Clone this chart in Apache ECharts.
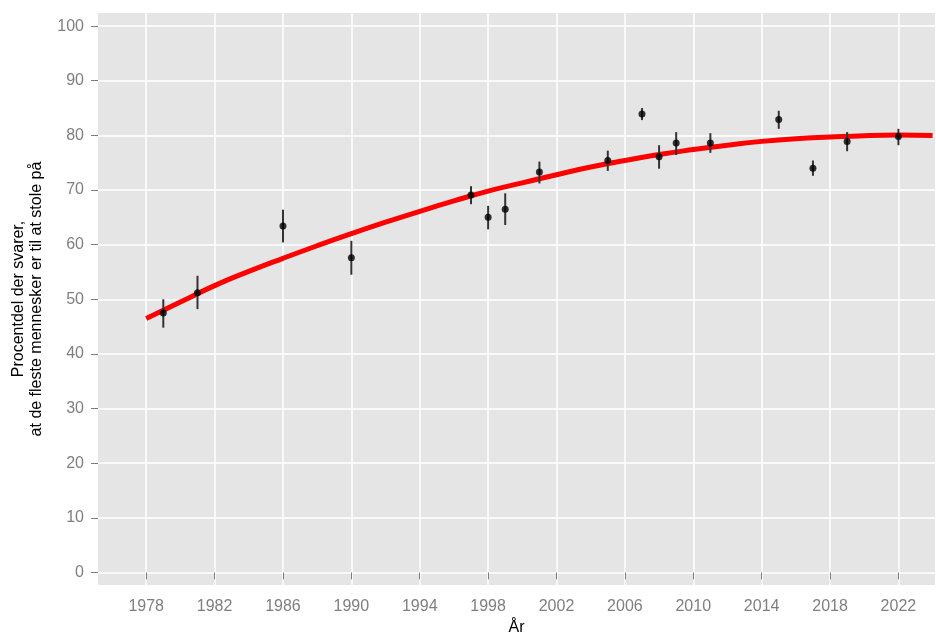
<!DOCTYPE html>
<html>
<head>
	<meta charset="UTF-8">
	<title>Tillid</title>
	<style>
		html, body { margin: 0; padding: 0; background: #fff; }
		#chart { width: 936px; height: 633px; }
	</style>
</head>
<body>
<div id="chart"></div>
<script type="text/javascript" src="https://cdn.jsdelivr.net/npm/echarts@6/dist/echarts.min.js"></script>
<script type="text/javascript">
// survey points
var years = [1979, 1981, 1986, 1990, 1997, 1998, 1999, 2001, 2005, 2007, 2008, 2009, 2011, 2015, 2017, 2019, 2022];
var shares = [47.5, 51.2, 63.4, 57.6, 69.1, 65.0, 66.5, 73.3, 75.4, 83.9, 76.1, 78.6, 78.6, 82.9, 74.0, 78.9, 79.8];
var lower = [44.8, 48.2, 60.4, 54.5, 67.4, 62.8, 63.6, 71.2, 73.5, 82.8, 73.9, 76.4, 76.8, 81.2, 72.6, 77.1, 78.2];
var upper = [50.0, 54.3, 66.4, 60.7, 70.7, 67.1, 69.4, 75.2, 77.2, 85.0, 78.2, 80.6, 80.4, 84.5, 75.4, 80.6, 81.2];

// red trend curve
var fitYears = [1978, 1980, 1982, 1984, 1986, 1988, 1990, 1992, 1994, 1996, 1998, 2000, 2002, 2004, 2006, 2008, 2010, 2012, 2014, 2016, 2018, 2020, 2022, 2024];
var fitValues = [46.5, 49.5, 52.5, 55.1, 57.5, 59.8, 62.0, 64.1, 66.1, 68.0, 69.8, 71.3, 72.8, 74.2, 75.4, 76.5, 77.4, 78.2, 78.9, 79.4, 79.7, 79.95, 80.05, 80.0];

// tick labels
var xTicks = [1978, 1982, 1986, 1990, 1994, 1998, 2002, 2006, 2010, 2014, 2018, 2022];
var yTicks = [0, 10, 20, 30, 40, 50, 60, 70, 80, 90, 100];

var chart = echarts.init(document.getElementById('chart'));

var pts = [];
var bars = [];
var fit = [];
for (var i = 0; i < years.length; i++) {
	pts.push([years[i], shares[i]]);
	bars.push([years[i], lower[i], upper[i]]);
}
for (var j = 0; j < fitYears.length; j++) {
	fit.push([fitYears[j], fitValues[j]]);
}

var labelFont = { color: '#7f7f7f', fontSize: 16, fontFamily: 'Liberation Sans' };

var option = {
	animation: false,
	grid: {
		left: 98, right: 1, top: 13, bottom: 48,
		outerBoundsMode: 'none',
		show: true, backgroundColor: '#e5e5e5', borderWidth: 0
	},
	xAxis: {
		type: 'value',
		min: 1975.18, max: 2024.14,
		name: 'År',
		nameLocation: 'middle',
		nameGap: 32,
		nameTextStyle: { color: '#000', fontSize: 16, fontFamily: 'Liberation Sans' },
		axisLine: { show: false },
		axisTick: { show: true, length: 7, customValues: xTicks, lineStyle: { color: '#7f7f7f', width: 1 } },
		axisLabel: Object.assign({
			margin: 14, customValues: xTicks,
			formatter: function (v) { return String(v); }
		}, labelFont),
		splitLine: { show: true, lineStyle: { color: '#fff', width: 1.5 } }
	},
	yAxis: {
		type: 'value',
		min: -2.3, max: 102.4,
		name: 'Procentdel der svarer,\nat de fleste mennesker er til at stole på',
		nameLocation: 'middle',
		nameGap: 52,
		nameTextStyle: { color: '#000', fontSize: 16, lineHeight: 18, fontFamily: 'Liberation Sans' },
		axisLine: { show: false },
		axisTick: { show: true, length: 7, customValues: yTicks, lineStyle: { color: '#7f7f7f', width: 1 } },
		axisLabel: Object.assign({ margin: 14, customValues: yTicks }, labelFont),
		splitLine: { show: true, lineStyle: { color: '#fff', width: 1.5 } }
	},
	series: [
		{
			type: 'line',
			data: fit,
			smooth: true,
			showSymbol: false,
			lineStyle: { color: '#ff0000', width: 5 },
			z: 2
		},
		{
			type: 'custom',
			data: bars,
			encode: { x: 0, y: [1, 2] },
			renderItem: function (params, api) {
				var x = api.value(0);
				var lo = api.coord([x, api.value(1)]);
				var hi = api.coord([x, api.value(2)]);
				return {
					type: 'line',
					shape: { x1: lo[0], y1: lo[1], x2: hi[0], y2: hi[1] },
					style: { stroke: '#333', lineWidth: 2 }
				};
			},
			z: 3
		},
		{
			type: 'scatter',
			data: pts,
			symbolSize: 7,
			itemStyle: { color: '#000' },
			z: 4
		}
	]
};
chart.setOption(option);
</script>
</body>
</html>
